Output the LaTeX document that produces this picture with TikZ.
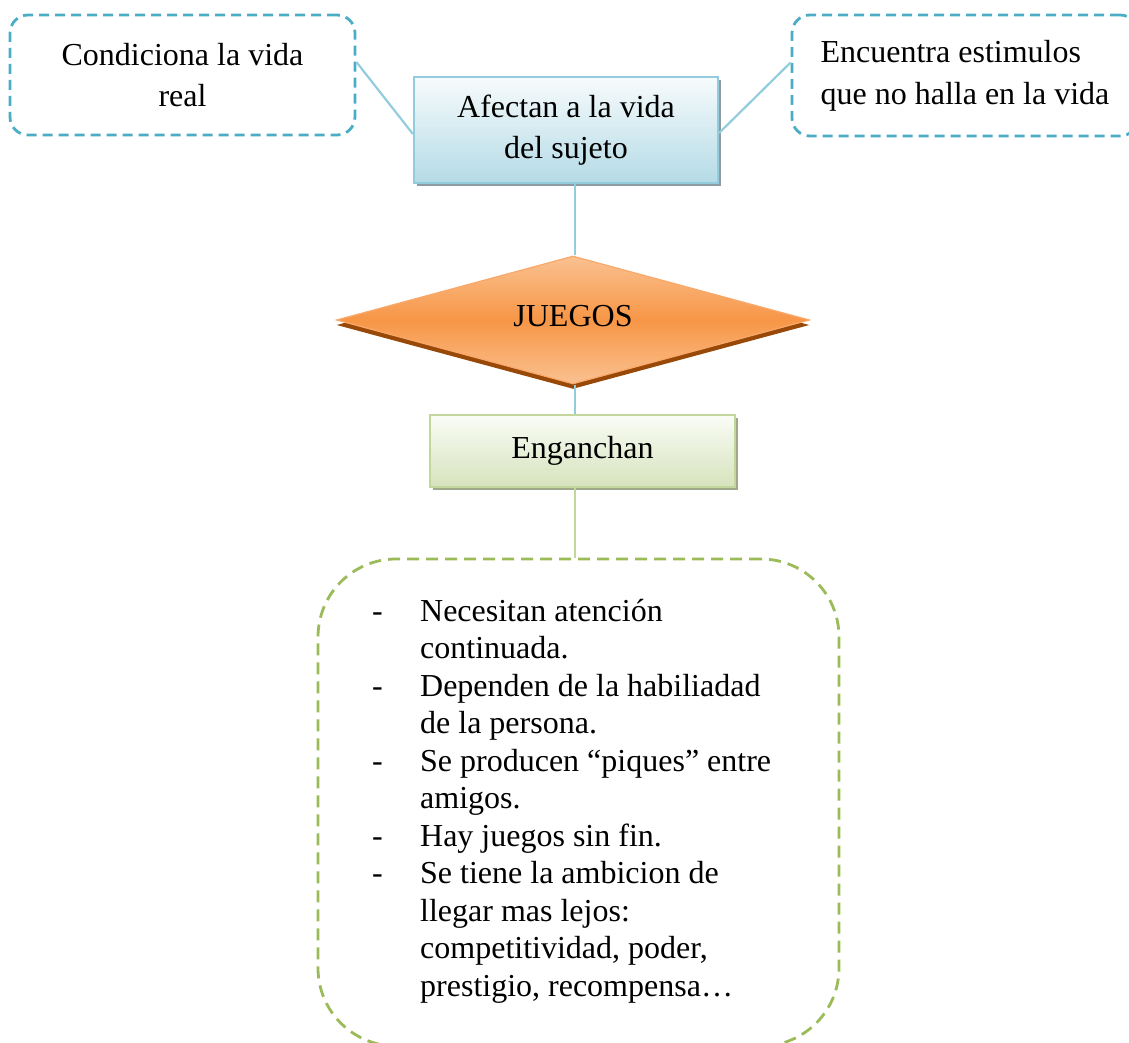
\documentclass[tikz,border=0pt]{standalone}
\usepackage{fontspec}
\setmainfont{Liberation Serif}
\usetikzlibrary{shapes.geometric,shadows,calc}
\definecolor{cyanD}{HTML}{4BACC6}
\definecolor{blueLn}{HTML}{93CDDD}
\definecolor{blueBot}{HTML}{B4DBE6}
\definecolor{blueTop}{HTML}{F7FBFC}
\definecolor{blueShadow}{HTML}{8C9CA2}
\definecolor{orMid}{HTML}{F79646}
\definecolor{orLight}{HTML}{FAC190}
\definecolor{orBorder}{HTML}{F9A86A}
\definecolor{orShadow}{HTML}{984807}
\definecolor{grnD}{HTML}{9BBB59}
\definecolor{grnLn}{HTML}{C3D69B}
\definecolor{grnBot}{HTML}{D6E3BC}
\definecolor{grnTop}{HTML}{FAFCF6}
\definecolor{grnShadow}{HTML}{A0A88A}
\tikzset{
  txt/.style={font=\fontsize{32}{41.7}\selectfont, align=center, text=black},
  dashbox/.style={rectangle, draw=cyanD, line width=2.8pt, dash pattern=on 10pt off 6pt, rounded corners=18pt, inner sep=0pt},
  bluebox/.style={rectangle, draw=blueLn, line width=2.2pt, top color=blueTop, bottom color=blueBot, inner sep=0pt,
     drop shadow={shadow xshift=3pt, shadow yshift=-3pt, fill=blueShadow, opacity=1}},
  greenbox/.style={rectangle, draw=grnLn, line width=2.2pt, top color=grnTop, bottom color=grnBot, inner sep=0pt,
     drop shadow={shadow xshift=3pt, shadow yshift=-3pt, fill=grnShadow, opacity=1}},
  gamebox/.style={diamond, draw=orBorder, line width=1.2pt, top color=orLight, bottom color=orLight, middle color=orMid, inner sep=0pt,
     drop shadow={shadow xshift=0pt, shadow yshift=-5pt, fill=orShadow, opacity=1}},
  conn/.style={draw=blueLn, line width=2.2pt},
  gconn/.style={draw=grnLn, line width=2.2pt},
  listbox/.style={rectangle, draw=grnD, line width=2.8pt, dash pattern=on 12pt off 7pt, rounded corners=78pt, inner sep=0pt}
}
\begin{document}
\begin{tikzpicture}[x=1pt,y=-1pt]
\useasboundingbox (0,0) rectangle (1129,1043);
\clip (0,0) rectangle (1129,1043);

\node[dashbox, minimum width=345pt, minimum height=120pt, txt] (cond) at (182.5,75) {Condiciona la vida\\real};
\node[dashbox, minimum width=346pt, minimum height=121pt, txt, align=left] (enc) at (965,75.5) {Encuentra estimulos\\que no halla en la vida};
\node[bluebox, minimum width=304pt, minimum height=106pt, txt] (afect) at (566,130) {Afectan a la vida\\del sujeto};
\node[gamebox, minimum width=473pt, minimum height=128pt, aspect=3.7, txt] (juegos) at (573,320) {\raisebox{8pt}{JUEGOS}};
\node[greenbox, minimum width=305pt, minimum height=72pt, txt] (eng) at (582.5,451) {\raisebox{6pt}{Enganchan}};
\node[listbox, minimum width=521pt, minimum height=487pt] (lbox) at (578.5,802.5) {};
\node[anchor=base west, inner sep=0pt, font=\fontsize{32}{37.5}\selectfont] (lista) at (372,621)
{\begin{tabular}[t]{@{}l@{}l@{}}
\makebox[48pt][l]{-} & Necesitan atención\\
 & continuada.\\
- & Dependen de la habiliadad\\
 & de la persona.\\
- & Se producen “piques” entre\\
 & amigos.\\
- & Hay juegos sin fin.\\
- & Se tiene la ambicion de\\
 & llegar mas lejos:\\
 & competitividad, poder,\\
 & prestigio, recompensa…
\end{tabular}};

\draw[conn] ([yshift=13pt]cond.east) -- ([yshift=-4pt]afect.west);
\draw[conn] ([yshift=13pt]enc.west) -- ([yshift=-3pt]afect.east);
\draw[conn] ([xshift=2pt]juegos.north |- afect.south) -- ([xshift=2pt]juegos.north);
\draw[conn] ([xshift=2pt]juegos.south) -- ([xshift=2pt]juegos.south |- eng.north);
\draw[gconn] ([xshift=2pt]juegos.south |- eng.south) -- ([xshift=2pt]juegos.south |- lbox.north);
\end{tikzpicture}
\end{document}
